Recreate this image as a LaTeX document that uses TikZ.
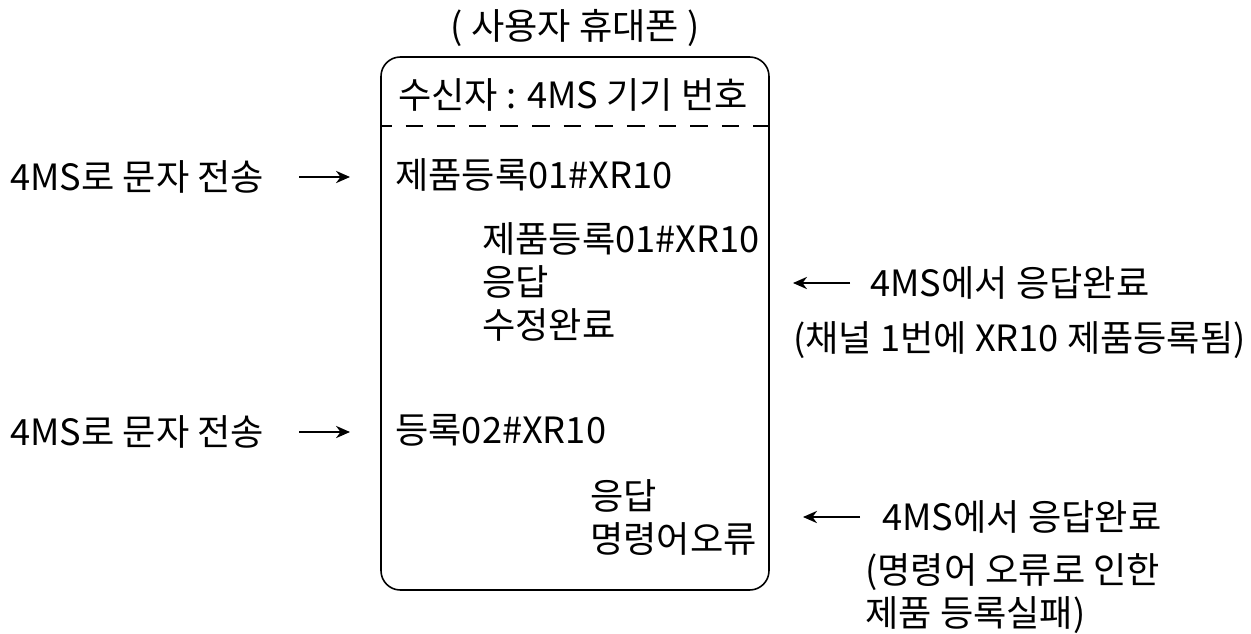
\documentclass[tikz,border=0pt]{standalone}
\usepackage{fontspec}
\setmainfont{Noto Sans CJK KR}
\usetikzlibrary{positioning,arrows.meta}

\begin{document}
\begin{tikzpicture}[
  x=0.02cm, y=-0.02cm,
  font=\fontsize{20.6}{24.5}\selectfont,
  txt/.style={inner sep=0pt, anchor=west, align=left},
  arr/.style={-{Stealth[length=8pt,width=7pt]}, line width=0.9pt},
  phone/.style={draw, line width=0.9pt, rounded corners=11pt}
]
\useasboundingbox (0,0) rectangle (1251,633);
% phone screen
\draw[phone] (381,57) rectangle (769,590);
\draw[dashed, dash pattern=on 10pt off 8pt, dash phase=4pt, line width=0.8pt] (381,126) -- (769,126);
\node (title) at (575,28) {( 사용자 휴대폰 )};
\node (recv) at (573,95) {수신자 : 4MS 기기 번호};
% first exchange
\node[txt] (send1) at (10,177) {4MS로 문자 전송};
\node[txt] (msg1) at (395,175) {제품등록01\#XR10};
\node[txt, anchor=north west] (reply1) at (482,222) {제품등록01\#XR10\\응답\\수정완료};
\node[txt] (done1) at (870,283) {4MS에서 응답완료};
\node[txt] (note1) at (793,340) {(채널 1번에 XR10 제품등록됨)};
\draw[arr, shorten <=35*0.02cm, shorten >=45*0.02cm] (send1.east) -- (send1.east -| msg1.west);
\draw[arr, shorten <=20*0.02cm] (done1.west) -- ++(-77,0);
% second exchange
\node[txt] (send2) at (10,432) {4MS로 문자 전송};
\node[txt] (msg2) at (395,430) {등록02\#XR10};
\node[txt, anchor=north west] (reply2) at (590,479) {응답\\명령어오류};
\node[txt] (done2) at (882,517) {4MS에서 응답완료};
\node[txt, anchor=north west] (note2) at (865,553) {(명령어 오류로 인한\\제품 등록실패)};
\draw[arr, shorten <=35*0.02cm, shorten >=45*0.02cm] (send2.east) -- (send2.east -| msg2.west);
\draw[arr, shorten <=22*0.02cm] (done2.west) -- ++(-79,0);
\end{tikzpicture}
\end{document}
